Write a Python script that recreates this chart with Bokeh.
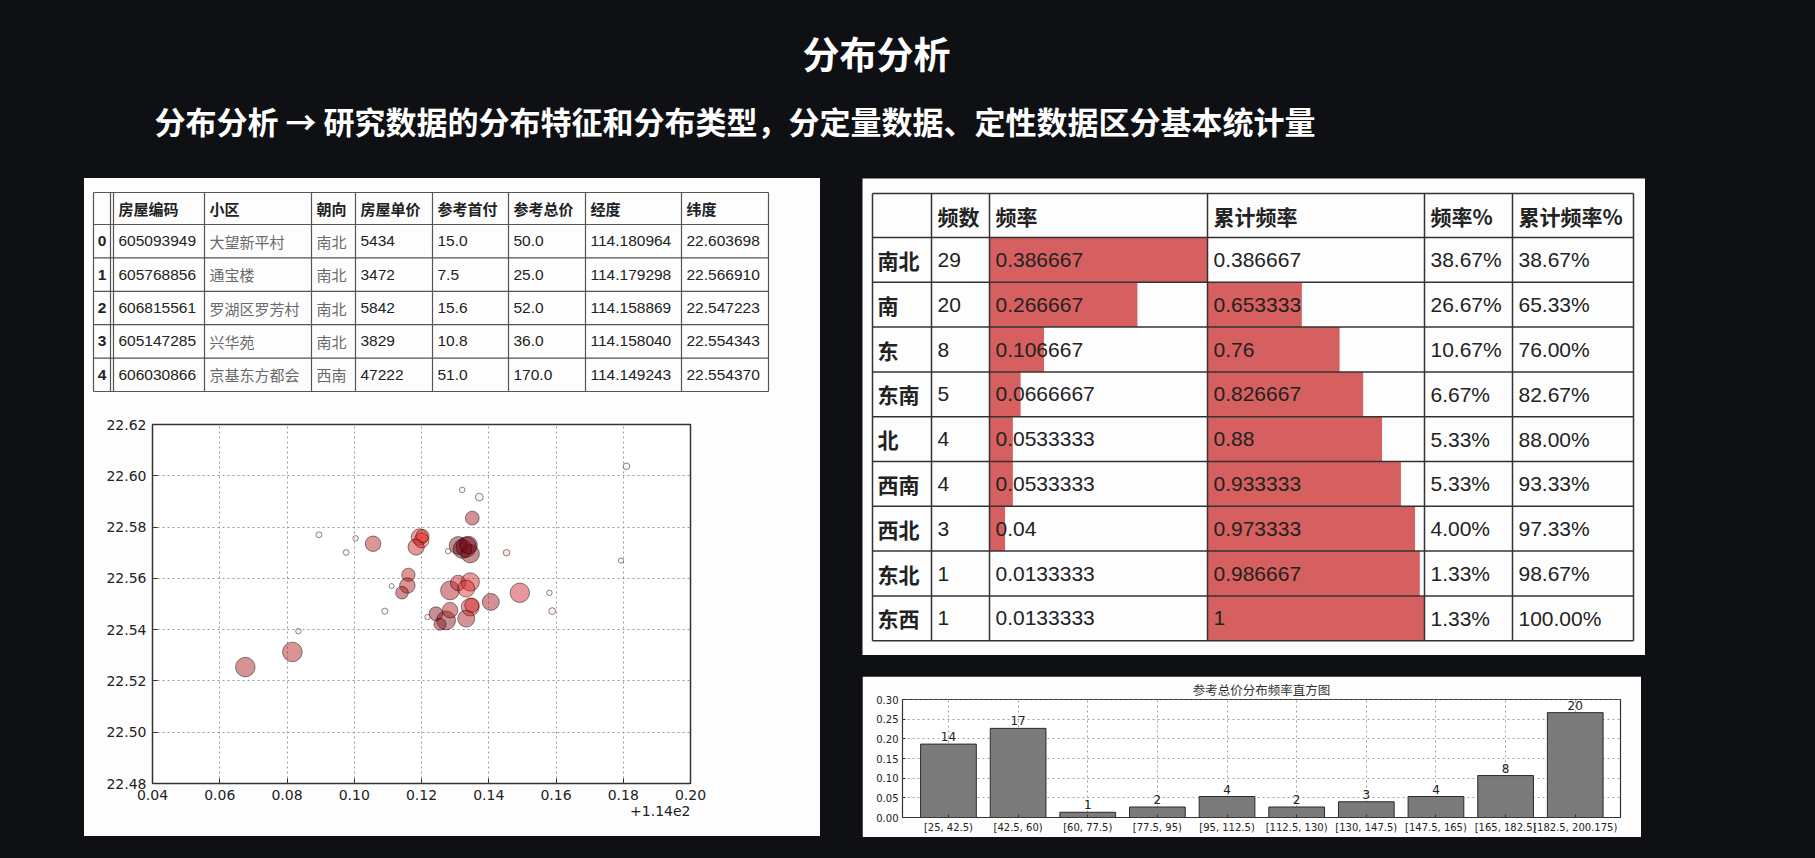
import numpy as np
from bokeh.plotting import figure
from bokeh.layouts import column, row
from bokeh.models import (Spacer, ColumnDataSource, LinearColorMapper, SingleIntervalTicker,
                          FixedTicker, CustomJSTickFormatter, NumeralTickFormatter, Title,
                          Range1d, GlobalInlineStyleSheet)
from bokeh.core.properties import value
from bokeh.palettes import Reds256
from bokeh.embed import file_html
from bokeh.resources import INLINE

BG = "#0e1013"
PANEL = "#fdfdfd"
LATIN = "Liberation Sans"
CJK = "Noto Sans CJK SC"
MPL = "DejaVu Sans"

title_text = "分布分析"
subtitle_text = "分布分析 → 研究数据的分布特征和分布类型，分定量数据、定性数据区分基本统计量"

# head of the house table
house_cols = ["", "房屋编码", "小区", "朝向", "房屋单价", "参考首付", "参考总价", "经度", "纬度"]
house_idx = [0, 1, 2, 3, 4]
house_code = ["605093949", "605768856", "606815561", "605147285", "606030866"]
house_name = ["大望新平村", "通宝楼", "罗湖区罗芳村", "兴华苑", "京基东方都会"]
house_dir = ["南北", "南北", "南北", "南北", "西南"]
house_unit = [5434, 3472, 5842, 3829, 47222]
house_down = [15.0, 7.5, 15.6, 10.8, 51.0]
house_total = [50.0, 25.0, 52.0, 36.0, 170.0]
house_lon = [114.180964, 114.179298, 114.158869, 114.158040, 114.149243]
house_lat = [22.603698, 22.566910, 22.547223, 22.554343, 22.554370]

# the rest of the points
more_lon = [114.1321, 114.1372, 114.1351, 114.0895, 114.1004, 114.1056, 114.0976, 114.1194,
            114.1200, 114.1184, 114.1309, 114.1333, 114.1345, 114.1279, 114.1453, 114.1161,
            114.1158, 114.1142, 114.1111, 114.1091, 114.1285, 114.1309, 114.1345, 114.1333,
            114.1406, 114.1345, 114.1333, 114.1243, 114.1273, 114.1285, 114.1218, 114.1255,
            114.0834, 114.0816, 114.0676, 114.1322, 114.1340, 114.1203, 114.1350]
more_lat = [22.5945, 22.5917, 22.5835, 22.5770, 22.5756, 22.5735, 22.5701, 22.5761,
            22.5748, 22.5722, 22.5728, 22.5722, 22.5696, 22.5706, 22.5700, 22.5614,
            22.5572, 22.5544, 22.5570, 22.5472, 22.5553, 22.5582, 22.5586, 22.5560,
            22.5508, 22.5488, 22.5443, 22.5462, 22.5436, 22.5476, 22.5449, 22.5421,
            22.5394, 22.5313, 22.5254, 22.5715, 22.5730, 22.5765, 22.5495]
more_unit = [3900, 7500, 24000, 4500, 3800, 30000, 4200, 34000,
             28000, 33000, 40000, 52000, 42000, 3500, 5500, 22000,
             30000, 20000, 3200, 4800, 45000, 30000, 42000, 36000,
             36000, 40000, 36000, 24000, 45000, 30000, 3600, 18000,
             3800, 48000, 48000, 45000, 38000, 22000, 26000]
more_total = [40, 45, 200, 50, 35, 185, 50, 160,
              150, 175, 210, 220, 210, 25, 70, 185,
              190, 200, 30, 35, 195, 180, 170, 160,
              200, 165, 195, 210, 210, 190, 45, 205,
              40, 190, 195, 220, 215, 160, 170]

# orientation frequency table
orient = ["南北", "南", "东", "东南", "北", "西南", "西北", "东北", "东西"]
orient_count = [29, 20, 8, 5, 4, 4, 3, 1, 1]
freq_cols = ["", "频数", "频率", "累计频率", "频率%", "累计频率%"]

# histogram of total price
bin_labels = ["[25, 42.5)", "[42.5, 60)", "[60, 77.5)", "[77.5, 95)", "[95, 112.5)",
              "[112.5, 130)", "[130, 147.5)", "[147.5, 165)", "[165, 182.5)", "[182.5, 200.175)"]
bin_counts = [14, 17, 1, 2, 4, 2, 3, 4, 8, 20]


def blank(w, h, fill):
    p = figure(width=w, height=h, x_range=Range1d(0, w), y_range=Range1d(h, 0),
               x_axis_location=None, y_axis_location=None, toolbar_location=None,
               output_backend="svg", min_border=0, background_fill_color=fill,
               border_fill_color=fill, outline_line_color=None)
    p.grid.visible = False
    return p


def edges(start, sizes):
    out = [start]
    for s in sizes:
        out.append(out[-1] + s)
    return out


def grid_lines(p, xs, ys, color, width):
    p.segment(x0=[xs[0]] * len(ys), y0=ys, x1=[xs[-1]] * len(ys), y1=ys,
              line_color=color, line_width=width)
    p.segment(x0=xs, y0=[ys[0]] * len(xs), x1=xs, y1=[ys[-1]] * len(xs),
              line_color=color, line_width=width)


def put_text(p, xs, ys, texts, font, size, color, style="normal", align="left"):
    p.text(x=xs, y=ys, text=texts, text_font=value(font), text_font_size=size,
           text_color=color, text_font_style=style, text_align=align, text_baseline="middle")


# header
hd = blank(1813, 178, BG)
put_text(hd, [876], [52], [title_text], CJK, "37px", "white", "bold", "center")
put_text(hd, [154], [120], [subtitle_text], CJK, "31px", "white", "bold")

# house table
tb = blank(736, 222, PANEL)
hx = edges(9, [17, 94, 107, 44, 77, 76, 77, 96, 87])
hy = edges(14, [32] + [33.4] * len(house_idx))
grid_lines(tb, hx, hy, "#555555", 1.2)
tb.segment(x0=[hx[1] + 3], y0=[hy[0]], x1=[hx[1] + 3], y1=[hy[-1]], line_color="#555555", line_width=1.2)
mid = [(hy[i] + hy[i + 1]) / 2 for i in range(len(hy) - 1)]
put_text(tb, [hx[i] + 5 + (3 if i == 1 else 0) for i in range(1, len(house_cols))],
         [mid[0]] * (len(house_cols) - 1), house_cols[1:], CJK, "15px", "#222222", "bold")
put_text(tb, [(hx[0] + hx[1]) / 2] * len(house_idx), mid[1:], [str(i) for i in house_idx],
         LATIN, "15.5px", "#222222", "bold", "center")
num_cols = [(1, house_code), (4, [str(v) for v in house_unit]), (5, [str(v) for v in house_down]),
            (6, [str(v) for v in house_total]), (7, ["%.6f" % v for v in house_lon]),
            (8, ["%.6f" % v for v in house_lat])]
for ci, vals in num_cols:
    put_text(tb, [hx[ci] + 5 + (3 if ci == 1 else 0)] * len(vals), mid[1:], vals, LATIN, "15.5px", "#222222")
for ci, vals in [(2, house_name), (3, house_dir)]:
    put_text(tb, [hx[ci] + 5] * len(vals), mid[1:], vals, CJK, "15px", "#6a6a6a")

# scatter of the houses
pt_lon = house_lon + more_lon
pt_lat = house_lat + more_lat
pt_unit = house_unit + more_unit
pt_total = house_total + more_total
src = ColumnDataSource(dict(lon=pt_lon, lat=pt_lat, total=pt_total,
                            size=[2 * np.sqrt(u / 500) for u in pt_unit]))
mapper = LinearColorMapper(palette=list(reversed(Reds256)), low=min(pt_total), high=max(pt_total))

sc = figure(width=736, height=436, x_range=Range1d(114.04, 114.20), y_range=Range1d(22.48, 22.62),
            toolbar_location=None, output_backend="svg", background_fill_color="white",
            border_fill_color=PANEL, min_border_left=68, min_border_right=130,
            min_border_top=24, min_border_bottom=53, outline_line_color="#333333",
            outline_line_width=1.5)
sc.scatter(x="lon", y="lat", size="size", source=src,
           fill_color={"field": "total", "transform": mapper}, fill_alpha=0.45,
           line_color="black", line_alpha=0.45)
sc.xaxis.ticker = SingleIntervalTicker(interval=0.02, num_minor_ticks=0)
sc.yaxis.ticker = SingleIntervalTicker(interval=0.02, num_minor_ticks=0)
sc.xaxis.formatter = CustomJSTickFormatter(code="return (tick - 114).toFixed(2);")
sc.yaxis.formatter = NumeralTickFormatter(format="0.00")
sc.add_layout(Title(text="+1.14e2", align="right", text_font=MPL, text_font_size="14px",
                    text_font_style="normal", text_color="#222222", standoff=2), "below")
for ax in sc.axis:
    ax.axis_line_color = None
    ax.major_tick_in = 5
    ax.major_tick_out = 0
    ax.major_tick_line_color = "#333333"
    ax.major_label_text_font = MPL
    ax.major_label_text_font_size = "14px"
    ax.major_label_text_color = "#222222"
    ax.major_label_standoff = 6
sc.grid.grid_line_dash = "2 3"
sc.grid.grid_line_color = "#9a9a9a"

# orientation table with bars
ft = blank(783, 477, PANEL)
fx = edges(10, [59, 58, 218, 217, 88, 121])
fy = edges(15, [44] + [44.8] * len(orient))
fmid = [(fy[i] + fy[i + 1]) / 2 for i in range(len(fy) - 1)]
total_n = sum(orient_count)
freq = [c / total_n for c in orient_count]
cum = list(np.cumsum(freq))
for ci, vals in [(2, freq), (3, cum)]:
    lo, hi = min(vals), max(vals)
    w = fx[ci + 1] - fx[ci]
    ft.quad(left=[fx[ci]] * len(vals), right=[fx[ci] + w * (v - lo) / (hi - lo) for v in vals],
            top=fy[1:-1], bottom=fy[2:], fill_color="#d65f5f", line_color=None)
grid_lines(ft, fx, fy, "#333333", 1.5)
put_text(ft, [fx[i] + 6 for i in range(1, len(freq_cols))], [fmid[0]] * (len(freq_cols) - 1),
         freq_cols[1:], CJK, "21px", "#222222", "bold")
put_text(ft, [fx[0] + 5] * len(orient), fmid[1:], orient, CJK, "21px", "#222222", "bold")
cells = [[str(c) for c in orient_count], ["%.6g" % v for v in freq], ["%.6g" % v for v in cum],
         ["%.2f%%" % (v * 100) for v in freq], ["%.2f%%" % (v * 100) for v in cum]]
for k, vals in enumerate(cells):
    put_text(ft, [fx[k + 1] + 6] * len(vals), fmid[1:], vals, LATIN, "21px", "#222222")

# histogram
bx = list(range(len(bin_labels)))
bfreq = [c / sum(bin_counts) for c in bin_counts]
hs = figure(width=779, height=161, x_range=Range1d(-0.66, 9.65), y_range=Range1d(0, 0.3001),
            toolbar_location=None, output_backend="svg", background_fill_color="white",
            border_fill_color=PANEL, min_border_left=40, min_border_right=21,
            min_border_top=22, min_border_bottom=20, outline_line_color="#333333",
            outline_line_width=1.2)
hs.title.text = "参考总价分布频率直方图"
hs.title.align = "center"
hs.title.text_font = CJK
hs.title.text_font_size = "12.5px"
hs.title.text_font_style = "normal"
hs.title.text_color = "#333333"
hs.title.standoff = 2
hs.vbar(x=bx, top=bfreq, width=0.8, fill_color="#7b7b7b", line_color="#2a2a2a")
hs.text(x=bx, y=bfreq, text=[str(c) for c in bin_counts], text_align="center",
        text_baseline="bottom", y_offset=-3, text_font=value(MPL), text_font_size="12px",
        text_color="#222222")
hs.xaxis.ticker = FixedTicker(ticks=bx)
hs.xaxis.major_label_overrides = {i: lab for i, lab in zip(bx, bin_labels)}
hs.yaxis.ticker = SingleIntervalTicker(interval=0.05, num_minor_ticks=0)
hs.yaxis.formatter = NumeralTickFormatter(format="0.00")
for ax in hs.axis:
    ax.axis_line_color = None
    ax.major_tick_in = 3
    ax.major_tick_out = 0
    ax.major_tick_line_color = "#333333"
    ax.major_label_text_font = MPL
    ax.major_label_text_font_size = "10px"
    ax.major_label_text_color = "#222222"
    ax.major_label_standoff = 4
hs.grid.grid_line_dash = "2 3"
hs.grid.grid_line_color = "#a0a0a0"

left = column(column(row(tb), row(sc), styles={"background-color": PANEL}),
              Spacer(width=736, height=20))
right = column(row(ft), Spacer(width=783, height=21), row(hs, Spacer(width=4, height=161)),
               Spacer(width=783, height=19))
body = row(Spacer(width=84, height=678), left, Spacer(width=42, height=678), right,
           Spacer(width=168, height=678))
root = column(hd, body, styles={"background-color": BG},
              stylesheets=[GlobalInlineStyleSheet(css="body { background-color: %s; }" % BG)])

open("out.html", "w").write(file_html(root, INLINE))
